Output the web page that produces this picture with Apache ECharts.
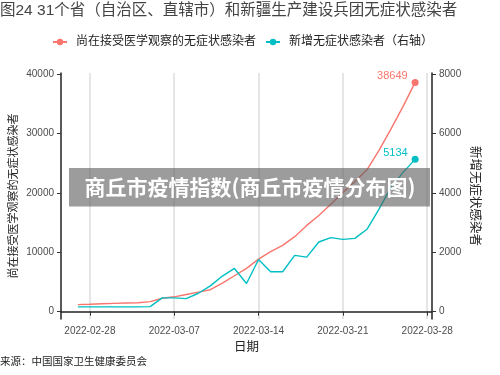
<!DOCTYPE html>
<html><head><meta charset="utf-8">
<script src="https://cdn.jsdelivr.net/npm/echarts@6/dist/echarts.min.js"></script>
<style>html,body{margin:0;padding:0;background:#fff}#c{width:500px;height:375px}</style>
</head><body><div id="c"></div>
<script>
const dates = ['2022-02-27','2022-02-28','2022-03-01','2022-03-02','2022-03-03','2022-03-04','2022-03-05','2022-03-06','2022-03-07','2022-03-08','2022-03-09','2022-03-10','2022-03-11','2022-03-12','2022-03-13','2022-03-14','2022-03-15','2022-03-16','2022-03-17','2022-03-18','2022-03-19','2022-03-20','2022-03-21','2022-03-22','2022-03-23','2022-03-24','2022-03-25','2022-03-26','2022-03-27'];
const observing = [1180,1250,1330,1400,1450,1500,1690,2260,2500,2900,3300,3700,4800,6050,7290,8850,10130,11170,12640,14540,16200,18110,20100,21950,23900,27200,30800,34600,38649];
const newCases = [160,160,160,160,160,160,170,464,464,440,620,870,1200,1456,948,1760,1344,1344,1896,1840,2347,2495,2438,2472,2776,3454,4188,4696,5134];
const xTickDates = ['2022-02-28','2022-03-07','2022-03-14','2022-03-21','2022-03-28'];
const leftTicks = [0,10000,20000,30000,40000];
const rightTicks = [0,2000,4000,6000,8000];
const seriesNames = ['尚在接受医学观察的无症状感染者','新增无症状感染者（右轴）'];

const FONT = "'Liberation Sans','Noto Sans CJK SC',sans-serif";
const DAY = 86400000;
function ts(s){const p=s.split('-').map(Number);return Date.UTC(p[0],p[1]-1,p[2]);}
function fmt(v){const d=new Date(Math.round(v/DAY)*DAY);const m=d.getUTCMonth()+1,dd=d.getUTCDate();return d.getUTCFullYear()+'-'+(m<10?'0':'')+m+'-'+(dd<10?'0':'')+dd;}
const RED='#F8766D', CYAN='#00BFC4';
function mk(vals,color){
  const last=vals.length-1;
  return vals.map((v,i)=> i===last ? {value:[ts(dates[i]),v],symbol:'circle',symbolSize:7,
     label:{show:true,position:'left',distance:4,offset:[0,-6],color:color,fontSize:11,fontFamily:FONT,formatter:String(v)}}
     : {value:[ts(dates[i]),v],symbol:'none'});
}
const xMin = ts(dates[0]) - 1.4*DAY, xMax = ts(dates[dates.length-1]) + 1.4*DAY;
const xTicks = xTickDates.map(ts);
const axisLabelStyle = {color:'#4d4d4d',fontSize:10,fontFamily:FONT};
const chart = echarts.init(document.getElementById('c'),null,{renderer:'canvas'});
chart.setOption({
  animation:false,
  backgroundColor:'#fff',
  title:{text:'图24 31个省（自治区、直辖市）和新疆生产建设兵团无症状感染者',left:0,top:3,padding:0,
    textStyle:{fontSize:15.5,fontWeight:'normal',color:'#444',fontFamily:FONT}},
  legend:{top:36,left:52,padding:0,itemWidth:14,itemHeight:8,itemGap:9,
    textStyle:{fontSize:12,color:'#222',fontFamily:FONT,padding:[0,0,0,4]},data:seriesNames},
  grid:{left:53,right:68,top:73,bottom:56,containLabel:false},
  xAxis:{type:'value',min:xMin,max:xMax,name:'日期',nameLocation:'middle',nameGap:22,nameMoveOverlap:false,
    nameTextStyle:{fontSize:12.5,color:'#222',fontFamily:FONT},
    axisLine:{show:true,lineStyle:{color:'#222',width:1.5}},
    axisTick:{show:true,length:4,lineStyle:{color:'#333',width:1},customValues:xTicks},
    axisLabel:{...axisLabelStyle,margin:7,customValues:xTicks,formatter:v=>fmt(v),hideOverlap:false},
    splitLine:{show:true,lineStyle:{color:'#dcdcdc',width:1.5}}},
  yAxis:[
    {type:'value',min:-1240,max:40230,position:'left',name:seriesNames[0],nameLocation:'middle',nameGap:42,nameRotate:90,nameMoveOverlap:false,
     nameTextStyle:{fontSize:11,color:'#222',fontFamily:FONT},
     axisLine:{show:true,lineStyle:{color:'#222',width:1.5}},
     axisTick:{show:true,length:4,lineStyle:{color:'#333'},customValues:leftTicks},
     axisLabel:{...axisLabelStyle,margin:7,customValues:leftTicks,formatter:v=>String(v)},
     splitLine:{show:false}},
    {type:'value',min:-248,max:8046,position:'right',name:'新增无症状感染者',nameLocation:'middle',nameGap:36,nameRotate:-90,nameMoveOverlap:false,
     nameTextStyle:{fontSize:12.5,color:'#222',fontFamily:FONT},
     axisLine:{show:true,lineStyle:{color:'#222',width:1.5}},
     axisTick:{show:true,length:4,lineStyle:{color:'#333'},customValues:rightTicks},
     axisLabel:{...axisLabelStyle,margin:7,customValues:rightTicks,formatter:v=>String(v)},
     splitLine:{show:false}}
  ],
  series:[
    {name:seriesNames[0],type:'line',yAxisIndex:0,symbol:'circle',symbolSize:7,showSymbol:true,
     color:RED,lineStyle:{color:RED,width:1.4},itemStyle:{color:RED},data:mk(observing,RED),z:3},
    {name:seriesNames[1],type:'line',yAxisIndex:1,symbol:'circle',symbolSize:7,showSymbol:true,
     color:CYAN,lineStyle:{color:CYAN,width:1.4},itemStyle:{color:CYAN},data:mk(newCases,CYAN),z:4}
  ],
  graphic:[
    {type:'text',left:0,top:357,style:{text:'来源：中国国家卫生健康委员会',fontSize:10.5,fill:'#222',fontFamily:FONT}},
    {type:'rect',shape:{x:69,y:168,width:361,height:38.5},style:{fill:'rgba(90,90,90,0.6)'},z:100},
    {type:'text',x:250,y:187,z:101,style:{text:'商丘市疫情指数(商丘市疫情分布图)',fill:'#fff',fontSize:21,fontWeight:'bold',
      fontFamily:"'Noto Sans CJK SC',sans-serif",align:'center',verticalAlign:'middle'}}
  ]
});
</script></body></html>
